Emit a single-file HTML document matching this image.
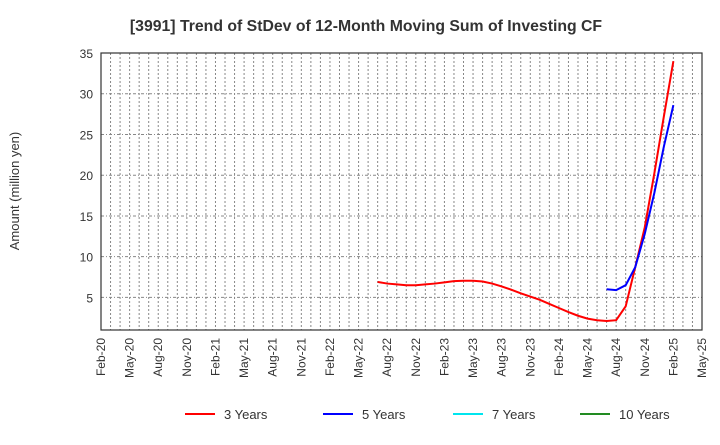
<!DOCTYPE html>
<html><head><meta charset="utf-8"><style>
body{margin:0;background:#fff;font-family:"Liberation Sans",Arial,sans-serif}
</style></head><body>
<svg width="720" height="440" xmlns="http://www.w3.org/2000/svg" font-family="Liberation Sans, Arial, sans-serif">
<text x="366" y="31" text-anchor="middle" font-size="15.8" font-weight="bold" fill="#333">[3991]  Trend of StDev of 12-Month Moving Sum of Investing CF</text>
<text transform="translate(19,191) rotate(-90)" text-anchor="middle" font-size="13" fill="#333">Amount (million yen)</text>
<g id="grid"></g><g id="axes"></g><g id="series"></g>
<g id="legend"></g>
</svg>
<script>
const yTicks=[5,10,15,20,25,30,35];
const xLabels=["Feb-20","May-20","Aug-20","Nov-20","Feb-21","May-21","Aug-21","Nov-21","Feb-22","May-22","Aug-22","Nov-22","Feb-23","May-23","Aug-23","Nov-23","Feb-24","May-24","Aug-24","Nov-24","Feb-25","May-25"];
const s3Start=29;
const s3=[6.9,6.7,6.6,6.5,6.5,6.6,6.7,6.85,7.0,7.05,7.05,6.95,6.7,6.35,5.95,5.5,5.1,4.7,4.2,3.7,3.2,2.75,2.4,2.2,2.1,2.2,3.9,8.7,13.6,20.2,27.2,34];
const s5Start=53;
const s5=[6.0,5.9,6.5,8.7,12.8,17.8,23.5,28.6];
const L=101,R=702,T=53,B=330,yMin=1,yMax=35,months=63;
const X=i=>L+(R-L)*i/months;
const Y=v=>B-(B-T)*(v-yMin)/(yMax-yMin);
const NS="http://www.w3.org/2000/svg";
function mk(tag,attrs,parent){const e=document.createElementNS(NS,tag);for(const k in attrs)e.setAttribute(k,attrs[k]);parent.appendChild(e);return e;}
const grid=document.getElementById('grid'),axes=document.getElementById('axes'),ser=document.getElementById('series'),leg=document.getElementById('legend');
for(let i=1;i<months;i++){const l=mk('line',{x1:X(i),x2:X(i),y1:T,y2:B,stroke:'#888','stroke-dasharray':'2,2','stroke-width':1},grid);

}
yTicks.forEach(v=>{const l=mk('line',{x1:L,x2:R,y1:Y(v),y2:Y(v),stroke:'#888','stroke-dasharray':'3,2,1,2','stroke-width':1},grid);


const t=mk('text',{x:L-8,y:Y(v)+5,'text-anchor':'end','font-size':12,fill:'#333'},axes);t.textContent=v;

});
const fr=mk('rect',{x:L,y:T,width:R-L,height:B-T,fill:'none',stroke:'#333','stroke-width':1.2},axes);


xLabels.forEach((s,k)=>{const x=X(k*3);const t=mk('text',{transform:`translate(${x+4},${B+8}) rotate(-90)`,'text-anchor':'end','font-size':12,fill:'#333'},axes);t.textContent=s;

});
function line(arr,start,color,name){const p=mk('polyline',{points:arr.map((v,i)=>X(start+i)+','+Y(v)).join(' '),fill:'none',stroke:color,'stroke-width':2},ser);

}
line(s3,s3Start,'#ff0000','series-3-years');
line(s5,s5Start,'#0000ff','series-5-years');
const legItems=[["3 Years","#ff0000",185],["5 Years","#0000ff",323],["7 Years","#00e5ee",453],["10 Years","#228b22",580]];
legItems.forEach(([n,c,x])=>{const g=mk('g',{},leg);


mk('line',{x1:x,x2:x+30,y1:414,y2:414,stroke:c,'stroke-width':2},g);
const t=mk('text',{x:x+39,y:419,'font-size':13,fill:'#333'},g);t.textContent=n;});
</script>
</body></html>
